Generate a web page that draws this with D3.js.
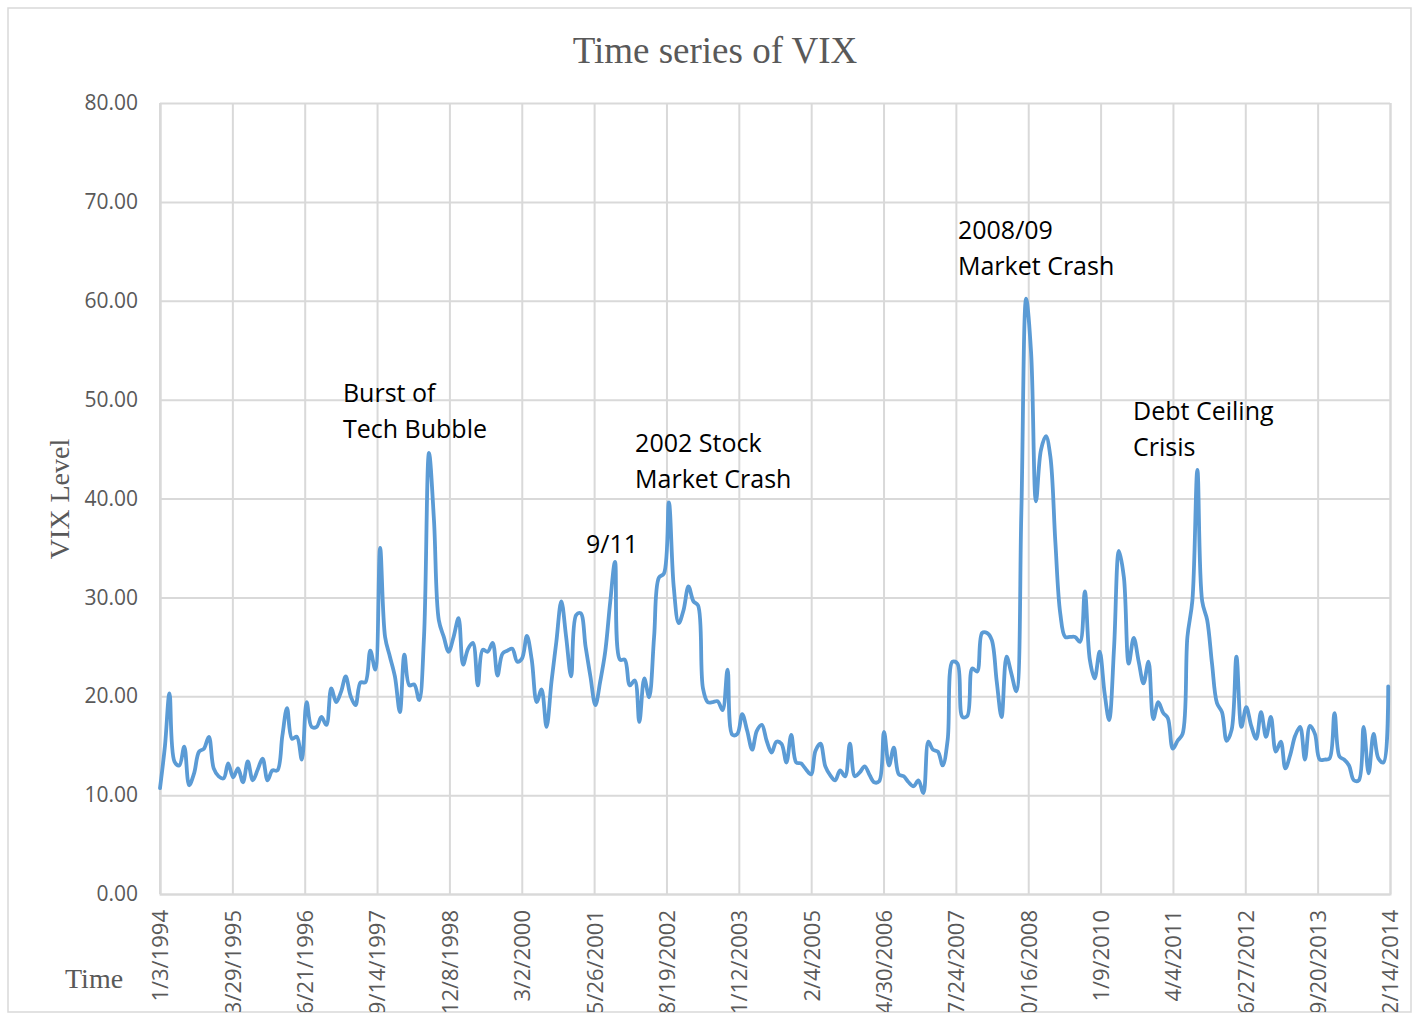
<!DOCTYPE html>
<html><head><meta charset="utf-8">
<script src="https://cdn.jsdelivr.net/npm/d3@7"></script>
<style>
html,body{margin:0;padding:0;background:#fff;}
svg{display:block;}
</style></head>
<body>
<svg id="chart" width="1418" height="1015"></svg>
<script>
// ---- data ----
const title = "Time series of VIX";
const yTitle = "VIX Level";
const xTitle = "Time";
const startDate = "1/3/1994";           // first monthly observation
const tickLabels = ["1/3/1994","3/29/1995","6/21/1996","9/14/1997","12/8/1998","3/2/2000",
  "5/26/2001","8/19/2002","11/12/2003","2/4/2005","4/30/2006","7/24/2007","10/16/2008",
  "1/9/2010","4/4/2011","6/27/2012","9/20/2013","12/14/2014"];
const yTicks = [0,10,20,30,40,50,60,70,80];
// monthly VIX level, Jan 1994 .. Dec 2014
const vix = [
 10.7,15.0,20.3,13.4,13.0,14.9,11.0,12.2,14.4,14.7,15.9,12.7,
 11.9,11.7,13.2,11.8,12.7,11.3,13.4,11.5,12.6,13.7,11.5,12.5,
 12.5,16.0,18.8,15.7,15.9,13.6,19.4,16.9,16.9,17.9,17.1,20.8,
 19.4,20.5,22.0,20.0,19.1,21.4,21.4,24.6,22.7,35.0,26.0,24.0,
 22.0,18.4,24.2,21.1,21.2,19.6,26.0,44.6,37.8,27.7,26.0,24.5,
 26.0,27.9,23.2,24.8,25.4,21.1,24.7,24.5,25.4,22.1,24.3,24.6,
 24.8,23.5,23.8,26.1,23.7,19.4,20.7,16.9,21.5,25.5,29.6,26.0,
 22.0,28.2,28.4,25.0,22.0,19.1,21.5,24.5,29.5,33.6,23.7,23.7,
 21.1,21.6,17.4,21.8,19.9,26.0,32.0,32.4,39.6,31.1,27.4,28.7,
 31.1,29.6,29.2,20.8,19.4,19.4,19.5,18.6,22.7,16.1,16.2,18.2,
 16.5,14.6,16.5,17.1,15.5,14.3,15.4,15.2,13.3,16.1,13.3,13.2,
 12.6,12.1,14.5,15.2,12.9,12.0,11.5,12.5,11.9,15.2,11.9,12.3,
 12.9,12.0,11.3,11.4,16.4,13.0,14.8,12.1,11.9,11.3,10.9,11.5,
 10.2,15.4,14.6,14.4,13.0,15.6,23.5,23.3,17.9,18.0,22.8,22.5,
 26.4,26.4,25.7,21.5,17.9,24.0,22.3,20.5,38.5,60.2,54.7,39.7,
 44.9,46.3,44.2,35.5,28.4,26.0,26.0,26.0,25.5,30.6,23.7,21.8,
 24.5,20.3,17.6,25.0,34.7,32.0,23.3,25.9,23.5,21.3,23.5,17.7,
 19.4,18.3,17.8,14.7,15.5,16.2,26.0,29.7,42.9,29.6,27.7,23.3,
 19.3,18.4,15.5,16.6,24.0,16.9,18.9,17.0,15.7,18.4,15.9,17.9,
 14.4,15.4,12.7,14.1,16.0,16.9,13.6,17.0,16.2,13.6,13.6,13.7,
 18.3,13.9,13.6,13.0,11.5,11.5,16.9,12.2,16.2,13.7,13.3,21.0
];
const annotations = [
  {lines:["Burst of","Tech Bubble"], date:"2/14/1997", value:49.8},
  {lines:["9/11"], date:"4/6/2001", value:34.5},
  {lines:["2002 Stock","Market Crash"], date:"2/5/2002", value:44.7},
  {lines:["2008/09","Market Crash"], date:"8/6/2007", value:66.2},
  {lines:["Debt Ceiling","Crisis"], date:"7/30/2010", value:47.9}
];

// ---- drawing ----
const parse = d3.timeParse("%m/%d/%Y");
const t0 = parse(startDate);
const series = vix.map((v,i)=>({date:d3.timeMonth.offset(t0,i), value:v}));
const tickDates = tickLabels.map(parse);

const svg = d3.select("#chart");
const plot = {left:160, right:1390, top:103, bottom:894};

const x = d3.scaleTime().domain([tickDates[0], tickDates[tickDates.length-1]]).range([plot.left, plot.right]);
const y = d3.scaleLinear().domain([0,80]).range([plot.bottom, plot.top]);

svg.append("defs").append("clipPath").attr("id","outer")
  .append("rect").attr("x",8).attr("y",8).attr("width",1403).attr("height",1004);

svg.append("rect").attr("x",8).attr("y",8).attr("width",1403).attr("height",1004)
  .attr("fill","#fff").attr("stroke","#d9d9d9").attr("stroke-width",1.5);

const g = svg.append("g").attr("clip-path","url(#outer)");

// horizontal grid
const yAxis = d3.axisLeft(y).tickValues(yTicks).tickSize(-(plot.right-plot.left)).tickFormat(d=>d.toFixed(2)).tickPadding(22);
const ya = g.append("g").attr("transform",`translate(${plot.left},0)`).call(yAxis);
ya.select(".domain").remove();
ya.selectAll(".tick line").attr("stroke","#d9d9d9").attr("stroke-width",2);
ya.selectAll(".tick text").attr("fill","#595959").attr("font-family","'Open Sans', sans-serif").attr("font-size",21);

// vertical grid + x labels
const xAxis = d3.axisBottom(x).tickValues(tickDates).tickSize(-(plot.bottom-plot.top)).tickFormat((d,i)=>tickLabels[i]);
const xa = g.append("g").attr("transform",`translate(0,${plot.bottom})`).call(xAxis);
xa.select(".domain").attr("stroke","#d9d9d9").attr("stroke-width",2);
xa.selectAll(".tick line").attr("stroke","#d9d9d9").attr("stroke-width",2);
xa.selectAll(".tick text")
  .attr("fill","#595959").attr("font-family","'Open Sans', sans-serif").attr("font-size",22)
  .attr("text-anchor","end")
  .attr("transform","rotate(-90)")
  .attr("x",-16).attr("y",0).attr("dy","0.36em");

// left axis line
g.append("line").attr("x1",plot.left).attr("x2",plot.left).attr("y1",plot.top).attr("y2",plot.bottom)
  .attr("stroke","#d9d9d9").attr("stroke-width",2);

// series line
const line = d3.line().x(d=>x(d.date)).y(d=>y(d.value)).curve(d3.curveCatmullRom.alpha(0.5));
g.append("path").datum(series).attr("d",line)
  .attr("fill","none").attr("stroke","#5b9bd5").attr("stroke-width",3.8)
  .attr("stroke-linejoin","round").attr("stroke-linecap","round");

// annotations
annotations.forEach(a=>{
  const ax = x(parse(a.date));
  const t = g.append("text").attr("x",ax).attr("y",y(a.value))
    .attr("font-family","'Open Sans', sans-serif").attr("font-size",25).attr("fill","#000");
  a.lines.forEach((l,i)=>t.append("tspan").attr("x",ax).attr("dy",i===0?0:36).text(l));
});

// titles
g.append("text").attr("x",715).attr("y",63).attr("text-anchor","middle")
  .attr("font-family","'Liberation Serif', 'Times New Roman', serif").attr("font-size",37).attr("fill","#595959").text(title);
g.append("text").attr("transform","translate(69,499) rotate(-90)").attr("text-anchor","middle")
  .attr("font-family","'Liberation Serif', 'Times New Roman', serif").attr("font-size",28).attr("fill","#595959").text(yTitle);
g.append("text").attr("x",65).attr("y",988)
  .attr("font-family","'Liberation Serif', 'Times New Roman', serif").attr("font-size",28).attr("fill","#595959").text(xTitle);
</script>
</body></html>
